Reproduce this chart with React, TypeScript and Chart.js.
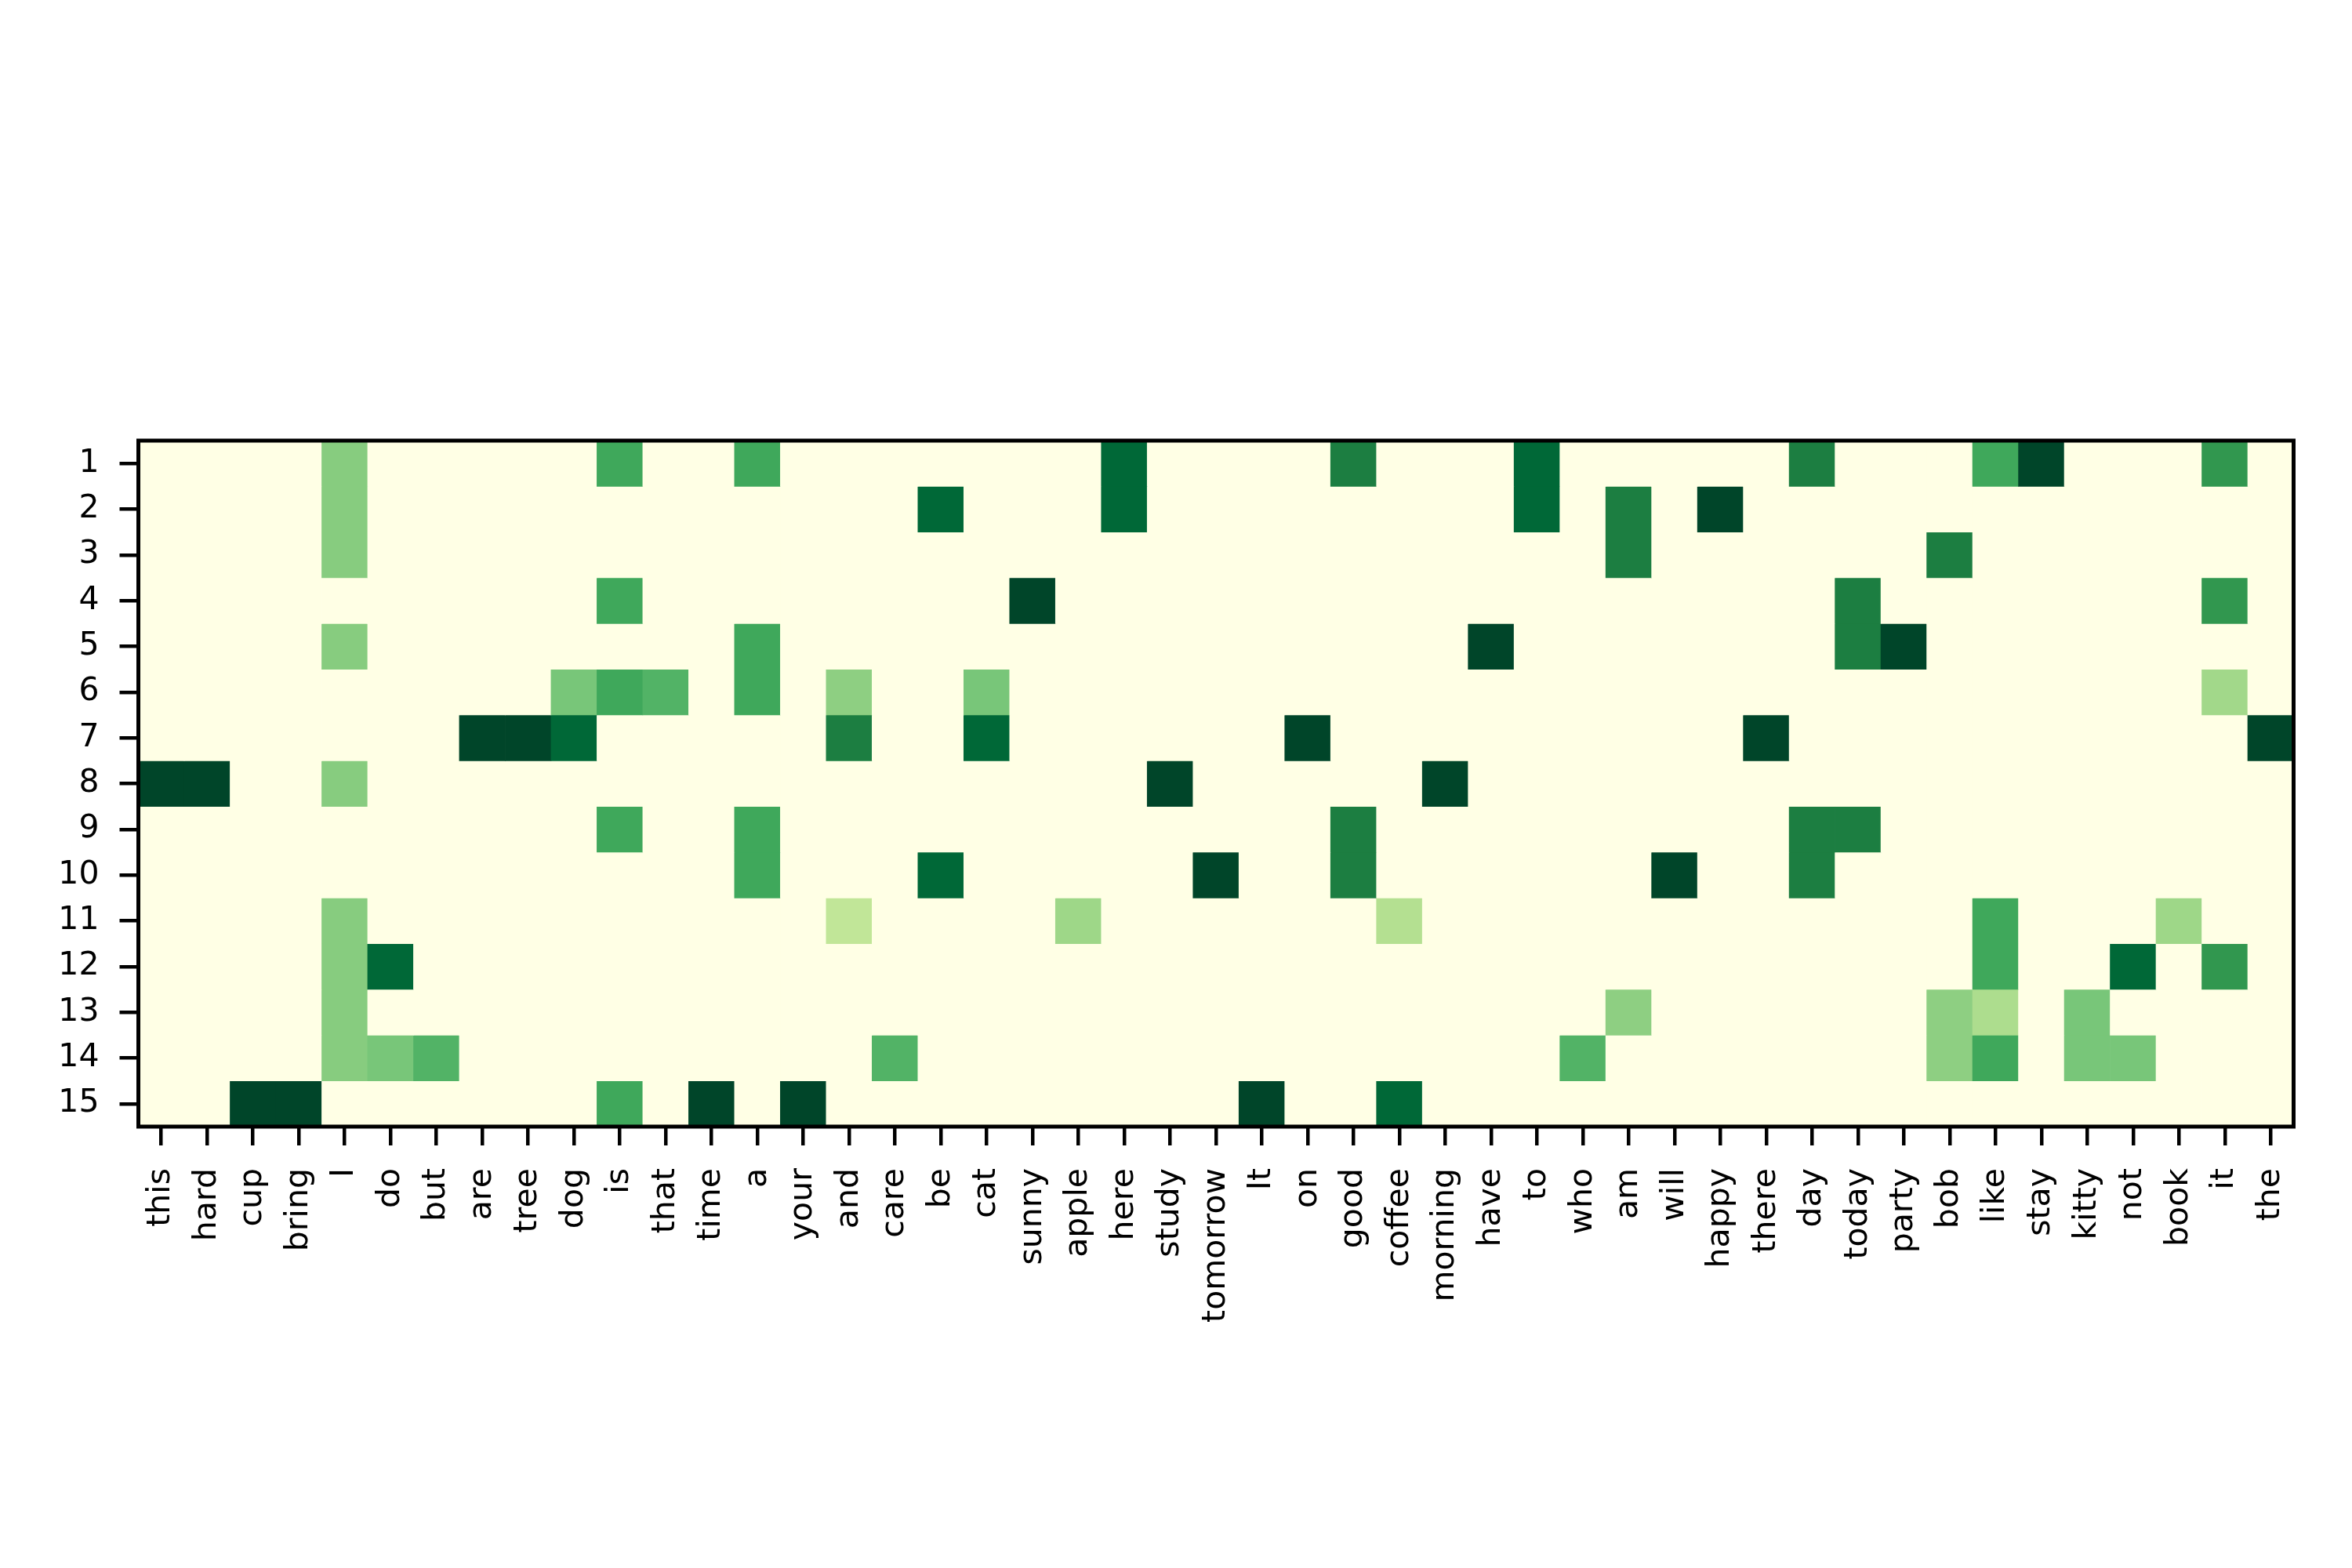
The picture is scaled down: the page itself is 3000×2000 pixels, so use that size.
import React, { useEffect, useRef } from "react";
import { Chart, registerables } from "chart.js";

Chart.register(...registerables);

// Column categories (x axis)
const words = [
  "this", "hard", "cup", "bring", "I", "do", "but", "are", "tree", "dog",
  "is", "that", "time", "a", "your", "and", "care", "be", "cat", "sunny",
  "apple", "here", "study", "tomorrow", "It", "on", "good", "coffee", "morning", "have",
  "to", "who", "am", "will", "happy", "there", "day", "today", "party", "bob",
  "like", "stay", "kitty", "not", "book", "it", "the",
];

// Row tick labels (y axis)
const rowTicks = [1, 2, 3, 4, 5, 6, 7, 8, 9, 10, 11, 12, 13, 14, 15];

// Non-zero cell values per row (all other cells are 0)
type Cell = [string, number];
const row1: Cell[] = [["I", 0.465], ["is", 0.635], ["a", 0.635], ["here", 0.875], ["good", 0.775], ["to", 0.875], ["day", 0.775], ["like", 0.635], ["stay", 1], ["it", 0.69]];
const row2: Cell[] = [["I", 0.465], ["be", 0.875], ["here", 0.875], ["to", 0.875], ["am", 0.775], ["happy", 1]];
const row3: Cell[] = [["I", 0.465], ["am", 0.775], ["bob", 0.775]];
const row4: Cell[] = [["is", 0.635], ["sunny", 1], ["today", 0.775], ["it", 0.69]];
const row5: Cell[] = [["I", 0.465], ["a", 0.635], ["have", 1], ["today", 0.775], ["party", 1]];
const row6: Cell[] = [["dog", 0.5], ["is", 0.635], ["that", 0.587], ["a", 0.635], ["and", 0.449], ["cat", 0.5], ["it", 0.4]];
const row7: Cell[] = [["are", 1], ["tree", 1], ["dog", 0.875], ["and", 0.775], ["cat", 0.875], ["on", 1], ["there", 1], ["the", 1]];
const row8: Cell[] = [["this", 1], ["hard", 1], ["I", 0.465], ["study", 1], ["morning", 1]];
const row9: Cell[] = [["is", 0.635], ["a", 0.635], ["good", 0.775], ["day", 0.775], ["today", 0.775]];
const row10: Cell[] = [["a", 0.635], ["be", 0.875], ["tomorrow", 1], ["good", 0.775], ["will", 1], ["day", 0.775]];
const row11: Cell[] = [["I", 0.465], ["and", 0.318], ["apple", 0.41], ["coffee", 0.355], ["like", 0.635], ["book", 0.41]];
const row12: Cell[] = [["I", 0.465], ["do", 0.875], ["like", 0.635], ["not", 0.875], ["it", 0.69]];
const row13: Cell[] = [["I", 0.465], ["am", 0.449], ["bob", 0.449], ["like", 0.375], ["kitty", 0.5]];
const row14: Cell[] = [["I", 0.465], ["do", 0.5], ["but", 0.587], ["care", 0.587], ["who", 0.587], ["bob", 0.449], ["like", 0.635], ["kitty", 0.5], ["not", 0.5]];
const row15: Cell[] = [["cup", 1], ["bring", 1], ["is", 0.635], ["time", 1], ["your", 1], ["It", 1], ["coffee", 0.875]];

const rows = [row1, row2, row3, row4, row5, row6, row7, row8, row9, row10, row11, row12, row13, row14, row15];

// YlGn colormap stops
const ylgn = ["#ffffe5", "#f7fcb9", "#d9f0a3", "#addd8e", "#78c679", "#41ab5d", "#238443", "#006837", "#004529"];

function hexToRgb(h: string) {
  return [parseInt(h.slice(1, 3), 16), parseInt(h.slice(3, 5), 16), parseInt(h.slice(5, 7), 16)];
}

function colorFor(v: number) {
  const t = Math.max(0, Math.min(1, v)) * (ylgn.length - 1);
  const i = Math.min(ylgn.length - 2, Math.floor(t));
  const f = t - i;
  const a = hexToRgb(ylgn[i]);
  const b = hexToRgb(ylgn[i + 1]);
  const c = a.map((x, k) => Math.round(x + (b[k] - x) * f));
  return `rgb(${c[0]},${c[1]},${c[2]})`;
}

const frame = {
  id: "frame",
  afterDraw(chart: any) {
    const { ctx, chartArea } = chart;
    ctx.save();
    ctx.strokeStyle = "#000";
    ctx.lineWidth = 5;
    ctx.strokeRect(chartArea.left, chartArea.top, chartArea.right - chartArea.left, chartArea.bottom - chartArea.top);
    ctx.restore();
  },
};

export default function App() {
  const ref = useRef<HTMLCanvasElement | null>(null);

  useEffect(() => {
    document.body.style.margin = "0";
    const canvas = ref.current!;
    const font = { family: "'DejaVu Sans', sans-serif", size: 41 };

    const datasets = rows.map((cells, ri) => {
      const r = rowTicks[ri];
      const values = words.map((w) => {
        const found = cells.find((c) => c[0] === w);
        return found ? found[1] : 0;
      });
      return {
        label: String(r),
        data: words.map(() => [r - 0.5, r + 0.5]),
        backgroundColor: values.map(colorFor),
        borderWidth: 0,
        grouped: false,
        barPercentage: 1,
        categoryPercentage: 1,
      };
    });

    const chart = new Chart(canvas, {
      type: "bar",
      data: { labels: words, datasets: datasets as any },
      plugins: [frame],
      options: {
        responsive: false,
        animation: false,
        devicePixelRatio: 1,
        layout: { padding: { left: 0, top: 562, right: 74.5, bottom: 163 } },
        plugins: { legend: { display: false }, tooltip: { enabled: false } },
        scales: {
          x: {
            type: "category",
            offset: true,
            border: { display: false },
            grid: { offset: false, drawOnChartArea: false, drawTicks: true, tickLength: 24, color: "#000", lineWidth: 4.5 },
            ticks: { autoSkip: false, maxRotation: 90, minRotation: 90, padding: 29, color: "#000", font },
            afterFit: (s: any) => { s.height = 400; },
          },
          y: {
            type: "linear",
            min: 0.5,
            max: 15.5,
            reverse: true,
            border: { display: false },
            grid: { drawOnChartArea: false, drawTicks: true, tickLength: 24, color: "#000", lineWidth: 4.5 },
            ticks: { padding: 26, color: "#000", font, callback: (v: any) => String(v) },
            afterBuildTicks: (s: any) => { s.ticks = rowTicks.map((v) => ({ value: v })); },
            afterFit: (s: any) => { s.width = 176.5; },
          },
        },
      },
    });
    return () => chart.destroy();
  }, []);

  return (
    <div style={{ width: 3000, height: 2000 }}>
      <canvas ref={ref} width={3000} height={2000} style={{ display: "block", width: 3000, height: 2000 }} />
    </div>
  );
}
